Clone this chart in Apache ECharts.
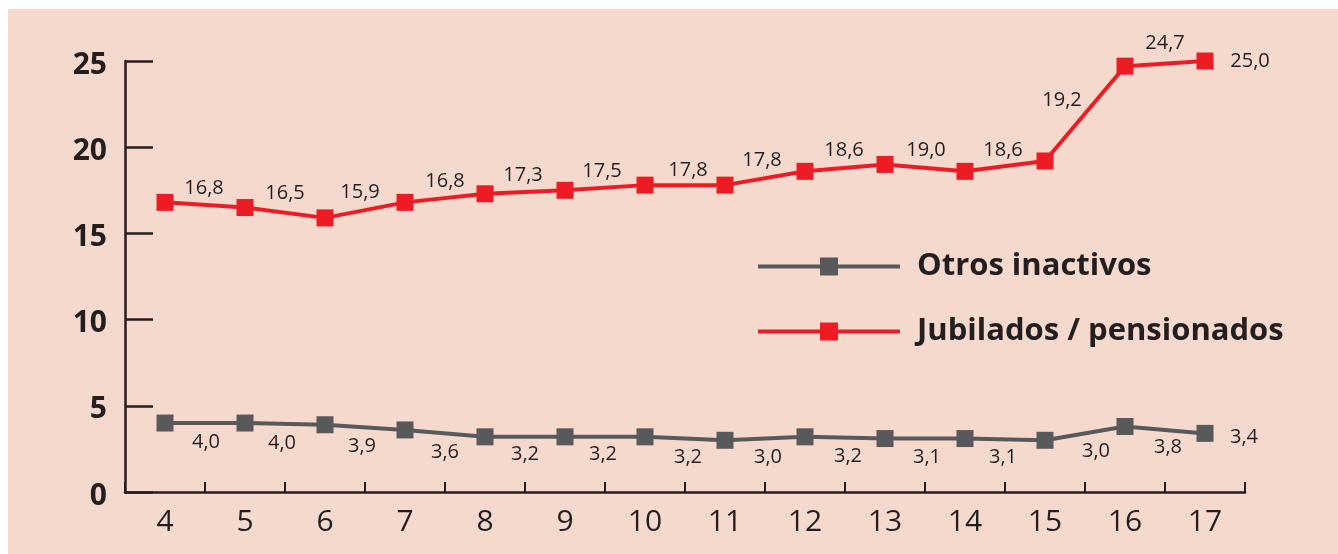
<!DOCTYPE html>
<html>
<head>
<meta charset="utf-8">
<script src="https://cdn.jsdelivr.net/npm/echarts@6/dist/echarts.min.js"></script>
<style>
  html, body { margin: 0; padding: 0; background: #ffffff; }
  #panel { position: absolute; left: 8px; top: 9px; width: 1330px; height: 545px; background: #f6d9cd; }
  #chart { position: absolute; left: 0; top: 0; width: 1338px; height: 554px; }
</style>
</head>
<body>
<div id="panel"></div>
<div id="chart"></div>
<script>
// Categories (x axis)
const categories = ['4', '5', '6', '7', '8', '9', '10', '11', '12', '13', '14', '15', '16', '17'];

// Series values
const otrosInactivos = [4.0, 4.0, 3.9, 3.6, 3.2, 3.2, 3.2, 3.0, 3.2, 3.1, 3.1, 3.0, 3.8, 3.4];
const jubiladosPensionados = [16.8, 16.5, 15.9, 16.8, 17.3, 17.5, 17.8, 17.8, 18.6, 19.0, 18.6, 19.2, 24.7, 25.0];

// Y axis ticks
const yTicks = [0, 5, 10, 15, 20, 25];

// Label placement relative to each marker (layout only)
const redLabelShift = [[39, -14], [40, -14], [35, -26], [40, -21], [38, -18], [37, -19], [43, -15],
  [37, -25], [39, -21], [41, -14], [38, -21], [17, -61], [40, -23], [45, 0]];
const greyLabelShift = [[41, 19], [37, 20], [37, 22], [40, 22], [40, 17], [38, 17], [43, 20],
  [43, 17], [43, 19], [42, 19], [38, 19], [51, 11], [43, 21], [39, 4]];

const INK = '#231f20';
const RED = '#ed1c24';
const GREY = '#58595b';
const FONT = '"Open Sans", "Noto Sans", sans-serif';

const fmt = v => v.toFixed(1).replace('.', ',');

function withLabels(values, shifts) {
  return values.map((v, i) => ({
    value: v,
    label: { offset: shifts[i] }
  }));
}

const chart = echarts.init(document.getElementById('chart'), null, { renderer: 'canvas' });

chart.setOption({
  backgroundColor: 'transparent',
  animation: false,
  textStyle: { fontFamily: FONT, color: INK },
  grid: { left: 125, right: 93, top: 61, bottom: 62, containLabel: false },
  legend: {
    orient: 'vertical',
    left: 751,
    top: 246,
    itemWidth: 142,
    itemHeight: 22.5,
    itemGap: 34,
    lineStyle: { width: 4 },
    textStyle: {
      fontFamily: FONT,
      fontSize: 31,
      fontWeight: 'bold',
      color: INK,
      padding: [8, 0, 0, 12]
    },
    data: ['Otros inactivos', 'Jubilados / pensionados']
  },
  xAxis: {
    type: 'category',
    data: categories,
    boundaryGap: true,
    axisLine: { lineStyle: { color: INK, width: 2.5 } },
    axisTick: { show: true, inside: true, length: 10, lineStyle: { color: INK, width: 2 } },
    axisLabel: { fontFamily: FONT, fontSize: 30, color: INK, margin: 15 },
    splitLine: { show: false }
  },
  yAxis: {
    type: 'value',
    min: yTicks[0],
    max: yTicks[yTicks.length - 1],
    interval: yTicks[1] - yTicks[0],
    axisLine: { show: true, lineStyle: { color: INK, width: 2.5 } },
    axisTick: { show: true, inside: true, length: 28, lineStyle: { color: INK, width: 2.5 } },
    axisLabel: {
      fontFamily: FONT, fontSize: 30, fontWeight: 'bold', color: INK, margin: 18,
      verticalAlign: 'top', lineHeight: 8
    },
    splitLine: { show: false }
  },
  series: [
    {
      name: 'Otros inactivos',
      type: 'line',
      data: withLabels(otrosInactivos, greyLabelShift),
      symbol: 'rect',
      symbolSize: 17,
      lineStyle: { color: GREY, width: 4 },
      itemStyle: { color: GREY },
      label: {
        show: true,
        position: 'inside',
        fontFamily: FONT,
        fontSize: 20,
        color: INK,
        formatter: p => fmt(p.value)
      },
      z: 2
    },
    {
      name: 'Jubilados / pensionados',
      type: 'line',
      data: withLabels(jubiladosPensionados, redLabelShift),
      symbol: 'rect',
      symbolSize: 17,
      lineStyle: { color: RED, width: 4 },
      itemStyle: { color: RED },
      label: {
        show: true,
        position: 'inside',
        fontFamily: FONT,
        fontSize: 20,
        color: INK,
        formatter: p => fmt(p.value)
      },
      z: 3
    }
  ]
});
</script>
</body>
</html>
